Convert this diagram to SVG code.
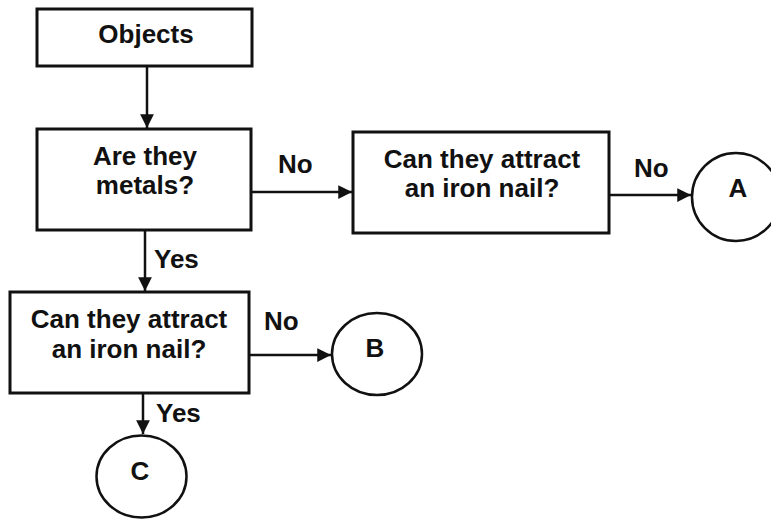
<svg xmlns="http://www.w3.org/2000/svg" width="771" height="523" viewBox="0 0 771 523">
<style>
.box{fill:#fff;stroke:#111;stroke-width:3}
.circ{fill:#fff;stroke:#111;stroke-width:2.5}
.t{font-family:"Liberation Sans",Arial,sans-serif;font-weight:bold;font-size:26px;fill:#111;text-anchor:middle}
.big{font-size:26px}
.lbl{font-family:"Liberation Sans",Arial,sans-serif;font-weight:bold;font-size:26px;fill:#111}
.ln{stroke:#111;stroke-width:2.5;fill:none;marker-end:url(#ah)}
</style>
<defs>
<marker id="ah" viewBox="0 0 10 10" refX="10" refY="5" markerWidth="5.5" markerHeight="5.5" markerUnits="strokeWidth" orient="auto">
<path d="M0,0 L10,5 L0,10 Z" fill="#111"/>
</marker>
</defs>
<rect width="771" height="523" fill="#fff"/>
<g id="connectors">
<line class="ln" x1="147" y1="66" x2="147" y2="128"/>
<line class="ln" x1="251" y1="192" x2="352" y2="192"/>
<line class="ln" x1="609" y1="195" x2="691" y2="195"/>
<line class="ln" x1="145" y1="230" x2="145" y2="291"/>
<line class="ln" x1="249" y1="355" x2="331" y2="355"/>
<line class="ln" x1="143" y1="393" x2="143" y2="434"/>
<text class="lbl" x="278" y="173">No</text>
<text class="lbl" x="634" y="177">No</text>
<text class="lbl" x="154" y="268">Yes</text>
<text class="lbl" x="264" y="330">No</text>
<text class="lbl" x="156" y="422">Yes</text>
</g>
<g id="objects">
<rect class="box" x="37" y="9" width="215" height="57"/>
<text class="t" x="146" y="43">Objects</text>
</g>
<g id="metals">
<rect class="box" x="37" y="129" width="214" height="101"/>
<text class="t" x="145" y="165">Are they</text>
<text class="t" x="145" y="194">metals?</text>
</g>
<g id="attract1">
<rect class="box" x="353" y="132" width="256" height="101"/>
<text class="t" x="482" y="168">Can they attract</text>
<text class="t" x="482" y="197">an iron nail?</text>
</g>
<g id="attract2">
<rect class="box" x="10" y="292" width="239" height="101"/>
<text class="t" x="129" y="328">Can they attract</text>
<text class="t" x="129" y="358">an iron nail?</text>
</g>
<g id="A">
<ellipse class="circ" cx="736" cy="197" rx="44" ry="44"/>
<text class="t big" x="738" y="197">A</text>
</g>
<g id="B">
<ellipse class="circ" cx="377" cy="354" rx="45" ry="41"/>
<text class="t big" x="375" y="357">B</text>
</g>
<g id="C">
<ellipse class="circ" cx="141.5" cy="476.5" rx="45" ry="41"/>
<text class="t big" x="140" y="480">C</text>
</g>
</svg>
